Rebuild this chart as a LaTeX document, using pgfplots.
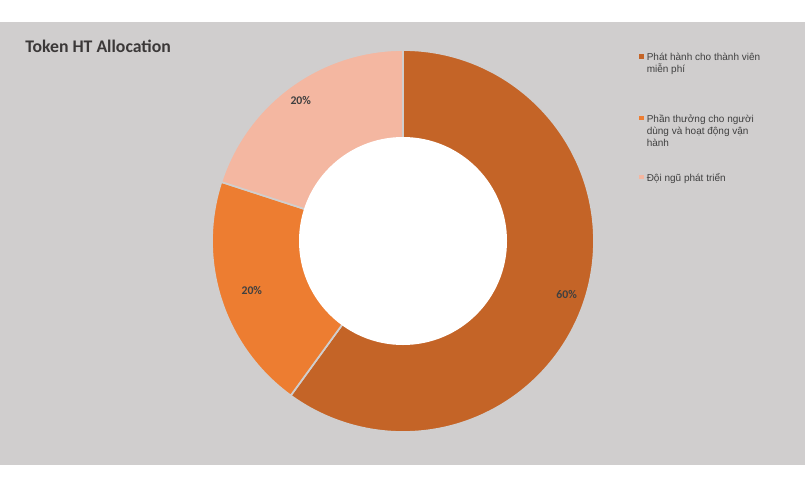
\documentclass[border=0pt]{standalone}
\usepackage{pgfplots}
\pgfplotsset{compat=1.18}
\usepackage{pgfplotstable}
\usepackage{fontspec}
\setmainfont{Carlito}
\newfontfamily\legfont{Liberation Sans}
\definecolor{bg}{HTML}{D0CECE}
\definecolor{cA}{HTML}{C46427}
\definecolor{cB}{HTML}{ED7D31}
\definecolor{cC}{HTML}{F4B7A1}
\definecolor{txt}{HTML}{404040}
\definecolor{ttl}{HTML}{3B3838}

% share (%), label radius (px)
\pgfplotstableread{
share lr
60 172
20 159
20 174
}\alloc
\pgfplotstablegetelem{0}{share}\of\alloc \edef\sA{\pgfplotsretval}
\pgfplotstablegetelem{1}{share}\of\alloc \edef\sB{\pgfplotsretval}
\pgfplotstablegetelem{2}{share}\of\alloc \edef\sC{\pgfplotsretval}
\pgfplotstablegetelem{0}{lr}\of\alloc \edef\rA{\pgfplotsretval}
\pgfplotstablegetelem{1}{lr}\of\alloc \edef\rB{\pgfplotsretval}
\pgfplotstablegetelem{2}{lr}\of\alloc \edef\rC{\pgfplotsretval}
\pgfmathsetmacro\aA{90}
\pgfmathsetmacro\aB{\aA-3.6*\sA}
\pgfmathsetmacro\aC{\aB-3.6*\sB}
\pgfmathsetmacro\aD{\aC-3.6*\sC}
\pgfmathsetmacro\mA{(\aA+\aB)/2}
\pgfmathsetmacro\mB{(\aB+\aC)/2}
\pgfmathsetmacro\mC{(\aC+\aD)/2}
\def\cx{403}\def\cy{251}\def\Ro{191}\def\Ri{104}

\newcommand\slice[3]{%
  \fill[#1, draw=bg, line width=1.3pt]
    (axis cs:{\cx+\Ro*cos(#2)},{\cy+\Ro*sin(#2)})
    arc[start angle=#2, end angle=#3, radius=\Ro]
    -- (axis cs:{\cx+(\Ri-3)*cos(#3)},{\cy+(\Ri-3)*sin(#3)})
    arc[start angle=#3, end angle=#2, radius=\Ri-3] -- cycle;}

\begin{document}
\begin{tikzpicture}
\begin{axis}[
  hide axis, scale only axis,
  width=603.75pt, height=369pt,
  xmin=0, xmax=805, ymin=0, ymax=492,
  clip=false,
]
\fill[white] (axis cs:0,0) rectangle (axis cs:805,492);
\fill[bg] (axis cs:0,27) rectangle (axis cs:805,470);
\slice{cA}{\aA}{\aB}
\slice{cB}{\aB}{\aC}
\slice{cC}{\aC}{\aD}
\fill[white] (axis cs:\cx,\cy) circle[radius=\Ri];
\node[text=txt, font=\bfseries\fontsize{8.8}{9}\selectfont] at (axis cs:{\cx+\rA*cos(\mA)},{\cy+\rA*sin(\mA)}) {\sA\%};
\node[text=txt, font=\bfseries\fontsize{8.8}{9}\selectfont] at (axis cs:{\cx+\rB*cos(\mB)},{\cy+\rB*sin(\mB)}) {\sB\%};
\node[text=txt, font=\bfseries\fontsize{8.8}{9}\selectfont] at (axis cs:{\cx+\rC*cos(\mC)},{\cy+\rC*sin(\mC)}) {\sC\%};
% title
\node[anchor=base west, inner sep=0pt, text=ttl, font=\bfseries\fontsize{13.3}{15}\selectfont] at (axis cs:25,{492-53}) {Token HT Allocation};
% legend
\fill[cA] (axis cs:639.3,{492-54.3}) rectangle (axis cs:643.7,{492-58.7});
\fill[cB] (axis cs:639.3,{492-115.7}) rectangle (axis cs:643.7,{492-120.1});
\fill[cC] (axis cs:639.3,{492-175}) rectangle (axis cs:643.7,{492-179.4});
\begin{scope}[every node/.style={anchor=base west, inner sep=0pt, text=txt, font=\legfont\fontsize{7.5}{9}\selectfont}]
\node at (axis cs:646.5,{492-61}) {Phát hành cho thành viên};
\node at (axis cs:646.5,{492-73}) {miễn phí};
\node at (axis cs:646.5,{492-122}) {Phần thưởng cho người};
\node at (axis cs:646.5,{492-134}) {dùng và hoạt động vận};
\node at (axis cs:646.5,{492-146}) {hành};
\node at (axis cs:646.5,{492-181.5}) {Đội ngũ phát triển};
\end{scope}
\end{axis}
\end{tikzpicture}
\end{document}
